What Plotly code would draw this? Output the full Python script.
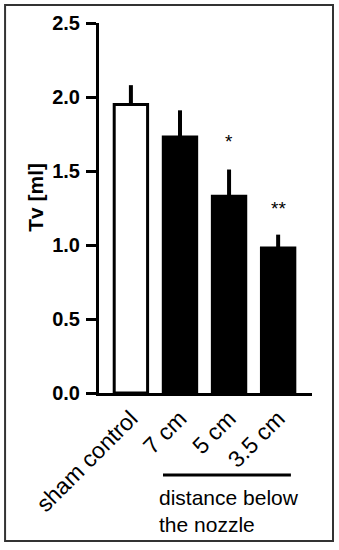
import plotly.graph_objects as go

categories = ["sham control", "7 cm", "5 cm", "3.5 cm"]
values = [1.95, 1.73, 1.33, 0.98]
errors = [0.13, 0.18, 0.18, 0.09]
fills = ["white", "black", "black", "black"]
stars = ["", "", "*", "**"]
star_y = [None, None, 1.70, 1.25]
yticks = [0.0, 0.5, 1.0, 1.5, 2.0, 2.5]

fig = go.Figure()
fig.add_trace(go.Bar(
    x=list(range(len(categories))), y=values,
    width=0.68,
    marker=dict(color=fills, line=dict(color="black", width=3)),
    error_y=dict(type="data", symmetric=False, array=errors,
                 arrayminus=[0] * len(errors), color="black",
                 thickness=4, width=0),
    showlegend=False,
))

for i, s in enumerate(stars):
    if s:
        fig.add_annotation(x=i, y=star_y[i], text=s, showarrow=False,
                           xanchor="center", yanchor="middle",
                           font=dict(size=19, color="black",
                                     family="Liberation Sans, Arial"))

fig.update_layout(
    template="none",
    width=339, height=550,
    margin=dict(l=99, r=27, t=23, b=157, autoexpand=False),
    paper_bgcolor="white", plot_bgcolor="white",
    font=dict(family="Liberation Sans, Arial", color="black"),
    xaxis=dict(
        range=[-0.65, 3.69], automargin=False,
        tickmode="array", tickvals=list(range(len(categories))),
        ticktext=categories, tickangle=-45,
        showline=True, linecolor="black", linewidth=3,
        ticks="", showgrid=False, zeroline=False,
        tickfont=dict(size=23, family="Liberation Sans, Arial", color="black"),
    ),
    yaxis=dict(
        range=[0, 2.5], automargin=False,
        tickmode="array", tickvals=yticks,
        ticktext=[f"{v:.1f}" for v in yticks],
        showline=True, linecolor="black", linewidth=3,
        ticks="outside", ticklen=10, tickwidth=3, tickcolor="black",
        showgrid=False, zeroline=False,
        tickfont=dict(size=20, family="Liberation Sans, Arial", color="black",
                      weight="bold"),
        ticklabelstandoff=2,
    ),
)

# y-axis title
fig.add_annotation(xref="paper", yref="paper", x=-0.296, y=0.53,
                   xanchor="center", yanchor="middle",
                   text="<b>Tv [ml]</b>", textangle=-90, showarrow=False,
                   font=dict(size=21, color="black"))

# bracket line and label
fig.add_shape(type="line", xref="paper", yref="paper",
              x0=0.3005, x1=0.901, y0=-0.2216, y1=-0.2216,
              line=dict(color="black", width=3))
fig.add_annotation(xref="paper", yref="paper", x=0.272, y=-0.247,
                   xanchor="left", yanchor="top", align="left",
                   text="distance below<br>the nozzle", showarrow=False,
                   font=dict(size=21, color="black"))

# outer border
fig.add_shape(type="rect", xref="paper", yref="paper",
              x0=-0.441, x1=1.0986, y0=-0.4, y1=1.0486,
              line=dict(color="#333333", width=2))

fig.write_html("out.html", config={"displayModeBar": False},
               post_script="document.body.style.margin='0';document.body.style.overflow='hidden';")
